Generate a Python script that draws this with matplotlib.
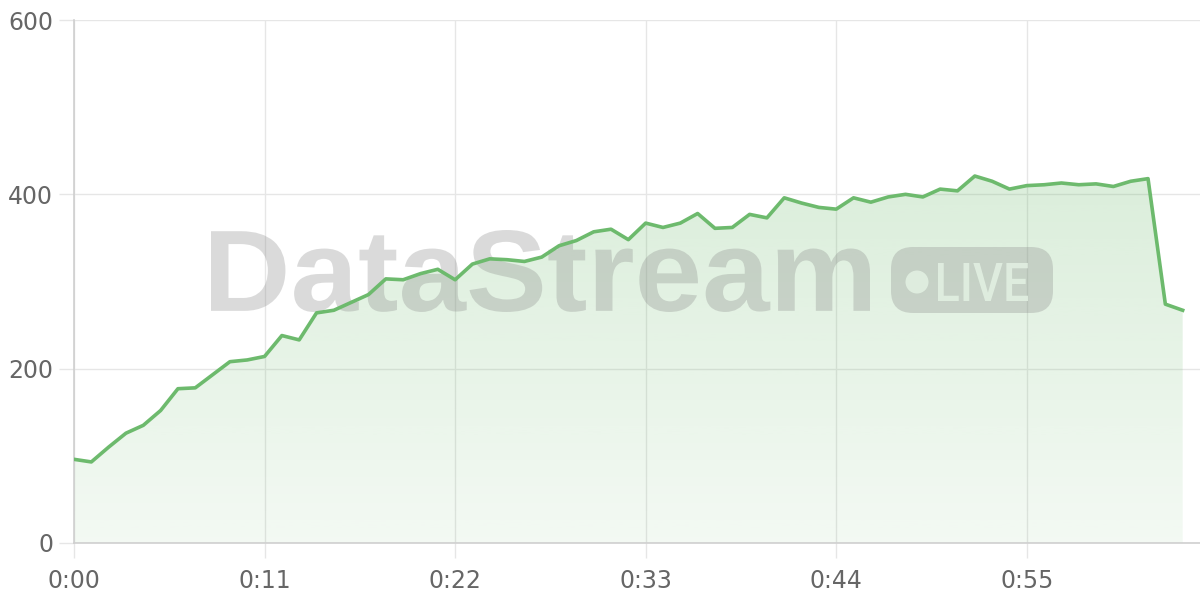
import matplotlib

matplotlib.use("Agg")
import matplotlib.pyplot as plt
import numpy as np
from matplotlib.font_manager import FontProperties
from matplotlib.patches import Circle, FancyBboxPatch, PathPatch
from matplotlib.textpath import TextPath
from matplotlib.ticker import FixedLocator, FuncFormatter
from matplotlib.transforms import Affine2D

# elapsed seconds and the live reading at each second
seconds = np.arange(65)
values = [
    96, 93, 110, 126, 135, 152, 177, 178, 193, 208,
    210, 214, 238, 233, 264, 267, 276, 285, 303, 302,
    309, 314, 302, 320, 326, 325, 323, 328, 341, 347,
    357, 360, 348, 367, 362, 367, 378, 361, 362, 377,
    373, 396, 390, 385, 383, 396, 391, 397, 400, 397,
    406, 404, 421, 415, 406, 410, 411, 413, 411, 412,
    409, 415, 418, 274, 267,
]
x_ticks = [0, 11, 22, 33, 44, 55]
y_ticks = [0, 200, 400, 600]

LINE = "#6dba6d"
GRID = "#e6e6e6"
SPINE = "#cfcfcf"
LABEL = "#666666"
W, H = 1200, 600


def mmss(v, _pos=None):
    v = int(round(v))
    return f"{v // 60}:{v % 60:02d}"


def text_in_box(text, prop, x0, x1, y_top, y_bot, trans, **kw):
    # fit a text outline into a pixel box (y measured from the top)
    tp = TextPath((0, 0), text, prop=prop)
    ext = tp.get_extents()
    sx = (x1 - x0) / ext.width
    sy = (y_bot - y_top) / ext.height
    tr = Affine2D().translate(-ext.x0, -ext.y0).scale(sx, sy).translate(x0, H - y_bot)
    return PathPatch(tr.transform_path(tp), transform=trans, **kw)


fig = plt.figure(figsize=(12, 6), dpi=100)
ax = fig.add_axes((74 / W, 1 - 543 / H, 1 - 74 / W, (543 - 20) / H))
px = Affine2D().scale(1 / W, 1 / H) + fig.transFigure

# gradient fill under the curve
grad = np.zeros((256, 1, 4))
grad[..., 0:3] = matplotlib.colors.to_rgb(LINE)
grad[:, 0, 3] = np.linspace(0.08, 0.32, 256)
poly = ax.fill_between(seconds, values, 0, color="none", lw=0)
img = ax.imshow(grad, extent=(0, 65, 0, 600), origin="lower", aspect="auto", zorder=1)
img.set_clip_path(poly.get_paths()[0], transform=ax.transData)

# watermark
wm = dict(facecolor=(0.53, 0.53, 0.53, 0.3), edgecolor="none", zorder=2)
bold = FontProperties(family="Liberation Sans", weight="bold")
ax.add_patch(text_in_box("DataStream", bold, 211, 870, 230, 312, px, **wm))
ax.add_patch(FancyBboxPatch((891, H - 313), 162, 66, boxstyle="round,pad=0,rounding_size=22",
                            transform=px, **wm))
knock = dict(facecolor=(0.89, 0.945, 0.89, 0.85), edgecolor="none", zorder=2.1)
ax.add_patch(Circle((917, H - 282), 11.5, transform=px, **knock))
medium = FontProperties(family="Roboto", weight="medium")
ax.add_patch(text_in_box("LIVE", medium, 938, 1028, 263, 301, px, **knock))

ax.plot(seconds, values, color=LINE, lw=2.6, zorder=3, solid_joinstyle="round")

ax.set_xlim(0, 65)
ax.set_ylim(0, 600)
ax.xaxis.set_major_locator(FixedLocator(x_ticks))
ax.xaxis.set_major_formatter(FuncFormatter(mmss))
ax.yaxis.set_major_locator(FixedLocator(y_ticks))
ax.set_axisbelow(True)
ax.grid(True, color=GRID, lw=1)
for side in ("top", "right"):
    ax.spines[side].set_visible(False)
for side in ("left", "bottom"):
    ax.spines[side].set_color(SPINE)
    ax.spines[side].set_linewidth(1.2)
ax.tick_params(axis="both", length=11, width=1, color=GRID, labelcolor=LABEL, labelsize=17)
ax.tick_params(axis="x", pad=8)
ax.tick_params(axis="y", pad=4)

fig.savefig("out.png", dpi=100)
